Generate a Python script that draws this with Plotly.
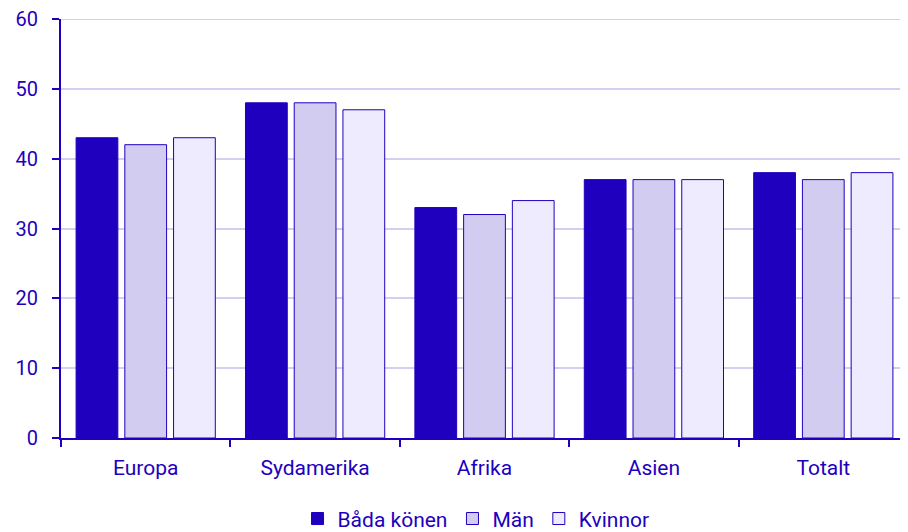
import plotly.graph_objects as go

categories = ["Europa", "Sydamerika", "Afrika", "Asien", "Totalt"]
series_names = ["Båda könen", "Män", "Kvinnor"]
bada = [43, 48, 33, 37, 38]
man = [42, 48, 32, 37, 37]
kvinnor = [43, 47, 34, 37, 38]
y_ticks = [0, 10, 20, 30, 40, 50, 60]

ink = "#1E00BE"
grid = "#D2D0F0"
fills = ["#1E00BE", "#D2CDF0", "#EDEBFD"]

fig = go.Figure()
for name, vals, col in zip(series_names, [bada, man, kvinnor], fills):
    fig.add_trace(go.Bar(x=categories, y=vals, name=name,
                         marker=dict(color=col, line=dict(color=ink, width=1))))

fig.add_shape(type="line", xref="paper", yref="y", x0=0, x1=1, y0=y_ticks[-1], y1=y_ticks[-1],
              line=dict(color=grid, width=2), layer="below")

fig.update_layout(
    width=900, height=524,
    margin=dict(l=53, r=0, t=11, b=94, autoexpand=False),
    plot_bgcolor="white", paper_bgcolor="white",
    font=dict(family="Roboto", color=ink, size=21),
    barmode="group", bargap=0.137, bargroupgap=0.143,
    showlegend=True,
    legend=dict(orientation="h", x=0.49, xanchor="center", y=-0.193, yanchor="middle",
                font=dict(size=21), traceorder="normal", itemwidth=30),
    xaxis=dict(showline=True, linecolor=ink, linewidth=2, ticks="outside",
               tickson="boundaries", ticklen=7, tickcolor=ink, tickwidth=2,
               tickfont=dict(size=21, color=ink), showgrid=False,
               automargin=False, ticklabelstandoff=10),
    yaxis=dict(range=[0, 60], tickvals=y_ticks, showline=True, linecolor=ink, linewidth=2,
               ticks="outside", ticklen=7, tickcolor=ink, tickwidth=2,
               gridcolor=grid, gridwidth=2, zeroline=False,
               tickfont=dict(size=20, color=ink), automargin=False,
               ticklabelstandoff=10, ticklabeloverflow="allow"),
)
fig.write_html("out.html")
